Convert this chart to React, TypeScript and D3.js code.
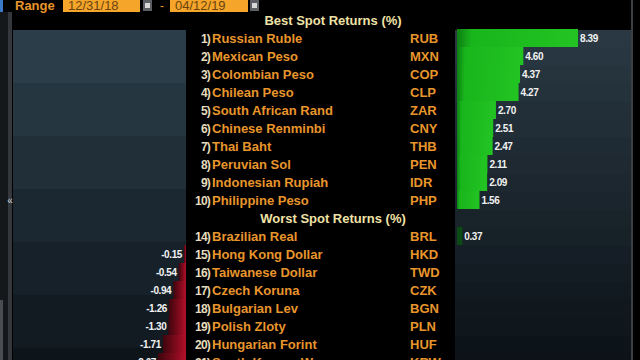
import React from "react";
import * as d3 from "d3";

const bestNames = ["Russian Ruble", "Mexican Peso", "Colombian Peso", "Chilean Peso", "South African Rand", "Chinese Renminbi", "Thai Baht", "Peruvian Sol", "Indonesian Rupiah", "Philippine Peso"];
const bestCodes = ["RUB", "MXN", "COP", "CLP", "ZAR", "CNY", "THB", "PEN", "IDR", "PHP"];
const bestValues = [8.39, 4.60, 4.37, 4.27, 2.70, 2.51, 2.47, 2.11, 2.09, 1.56];
const bestRanks = ["1)", "2)", "3)", "4)", "5)", "6)", "7)", "8)", "9)", "10)"];

const worstNames = ["Brazilian Real", "Hong Kong Dollar", "Taiwanese Dollar", "Czech Koruna", "Bulgarian Lev", "Polish Zloty", "Hungarian Forint", "South Korean Won"];
const worstCodes = ["BRL", "HKD", "TWD", "CZK", "BGN", "PLN", "HUF", "KRW"];
const worstValues = [0.37, -0.15, -0.54, -0.94, -1.26, -1.30, -1.71, -2.07];
const worstRanks = ["14)", "15)", "16)", "17)", "18)", "19)", "20)", "21)"];

const rangeStart = "12/31/18";
const rangeEnd = "04/12/19";
const bestTitle = "Best Spot Returns (%)";
const worstTitle = "Worst Spot Returns (%)";

const W = 640, H = 360;
const FONT = "'Liberation Sans', Arial, sans-serif";

export default function App() {
  const lineIdx = d3.range(20);
  const y = d3.scaleBand<number>().domain(lineIdx).range([11, 11 + 18 * 20]).padding(0);
  const cy = (k: number) => (y(k) as number) + 9;

  const xPos = d3.scaleLinear().domain([0, 8.39]).range([457, 578]);
  const xNeg = d3.scaleLinear().domain([-2.07, 0]).range([158, 186]);

  type Row = { rank: string; name: string; code: string; value: number; line: number };
  const rows: Row[] = [
    ...bestNames.map((n, i) => ({ rank: bestRanks[i], name: n, code: bestCodes[i], value: bestValues[i], line: 1 + i })),
    ...worstNames.map((n, i) => ({ rank: worstRanks[i], name: n, code: worstCodes[i], value: worstValues[i], line: 12 + i })),
  ];

  const bandColorR = d3.scaleLinear<string>().domain([30, 360]).range(["#293843", "#0b1116"]).interpolate(d3.interpolateRgb);
  const bandColorL = d3.scaleLinear<string>().domain([30, 360]).range(["#2b3d49", "#0c1218"]).interpolate(d3.interpolateRgb);
  const bandRows = d3.range(30, 360, 18);
  const leftBands = d3.range(30, 360, 53);

  return (
    <svg width={W} height={H} style={{ position: "absolute", left: 0, top: 0, background: "#000" }} fontFamily={FONT}>
      <defs>
        <linearGradient id="gGreen" x1="0" x2="1" y1="0" y2="0">
          <stop offset="0" stopColor="#0e7e14" />
          <stop offset="0.12" stopColor="#19b51c" />
          <stop offset="1" stopColor="#22c422" />
        </linearGradient>
        <linearGradient id="gRed" x1="0" x2="1" y1="0" y2="0">
          <stop offset="0" stopColor="#3e050e" />
          <stop offset="0.6" stopColor="#820a1c" />
          <stop offset="1" stopColor="#b3102a" />
        </linearGradient>
      </defs>
      <rect x={0} y={0} width={W} height={H} fill="#000" />

      {/* left strip */}
      <rect x={0} y={12} width={9} height={348} fill="#15181b" />
      <rect x={8} y={12} width={4} height={348} fill="#34383c" />
      <rect x={0} y={300} width={3} height={60} fill="#4a4e52" />
      <text x={10} y={204} fill="#cfd6dc" fontSize={10} textAnchor="middle">«</text>
      <rect x={0} y={0} width={3} height={12} fill="#3a78c8" />

      {/* left panel */}
      {leftBands.map((b, i) => (
        <rect key={"lb" + i} x={13} y={b} width={173} height={Math.min(53, 360 - b)} fill={bandColorL(b)} />
      ))}

      {/* right panel */}
      {bandRows.map((b, i) => (
        <g key={"rb" + i}>
          <rect x={455} y={b} width={176} height={18} fill={bandColorR(b)} />
          <rect x={455} y={b + 17} width={176} height={1} fill={bandColorR(b + 9)} opacity={0.6} />
        </g>
      ))}
      <rect x={631} y={0} width={2} height={H} fill="#3a3f44" />

      {/* top bar */}
      <text x={15} y={10} fill="#e8962a" fontSize={13} fontWeight="bold">Range</text>
      <rect x={63} y={-2} width={77} height={14} fill="#f4a52a" />
      <text x={68} y={10} fill="#6a4410" fontSize={13}>{rangeStart}</text>
      <rect x={143} y={0} width={9} height={11} fill="#5c6064" />
      <rect x={145} y={3} width={5} height={5} fill="#d8d8d8" />
      <text x={160} y={10} fill="#e8962a" fontSize={12}>-</text>
      <rect x={170} y={-2} width={78} height={14} fill="#f4a52a" />
      <text x={175} y={10} fill="#6a4410" fontSize={13}>{rangeEnd}</text>
      <rect x={250} y={0} width={9} height={11} fill="#5c6064" />
      <rect x={252} y={3} width={5} height={5} fill="#d8d8d8" />

      {/* headers */}
      <text x={333} y={cy(0) + 5} fill="#efe2a6" fontSize={13} fontWeight="bold" textAnchor="middle">{bestTitle}</text>
      <text x={333} y={cy(11) + 5} fill="#efe2a6" fontSize={13} fontWeight="bold" textAnchor="middle">{worstTitle}</text>

      {/* bars */}
      {rows.map((r, i) => {
        const top = y(r.line) as number;
        if (r.value >= 0) {
          const x0 = xPos(0), x1 = xPos(r.value);
          return (
            <g key={"bar" + i}>
              <rect x={x0} y={top} width={x1 - x0} height={18} fill={r.line > 11 ? "#0c4a14" : "url(#gGreen)"} />
              <text x={x1 + 2} y={cy(r.line) + 4} fill="#f2f2f2" fontSize={10} fontWeight="bold" letterSpacing={-0.4}>{r.value.toFixed(2)}</text>
            </g>
          );
        }
        const x0 = xNeg(r.value), x1 = xNeg(0);
        return (
          <g key={"bar" + i}>
            <rect x={x0} y={top} width={x1 - x0} height={18} fill="url(#gRed)" />
            <text x={x0 - 2} y={cy(r.line) + 4} fill="#f2f2f2" fontSize={10} fontWeight="bold" letterSpacing={-0.4} textAnchor="end">{r.value.toFixed(2)}</text>
          </g>
        );
      })}

      {/* list */}
      {rows.map((r, i) => (
        <g key={"row" + i}>
          <text x={210} y={cy(r.line) + 5} fill="#e6dcbc" fontSize={12} fontWeight="bold" textAnchor="end" letterSpacing={-0.8}>{r.rank}</text>
          <text x={212} y={cy(r.line) + 5} fill="#e8952c" fontSize={13} fontWeight="bold">{r.name}</text>
          <text x={410} y={cy(r.line) + 5} fill="#e8952c" fontSize={13} fontWeight="bold">{r.code}</text>
        </g>
      ))}
    </svg>
  );
}
